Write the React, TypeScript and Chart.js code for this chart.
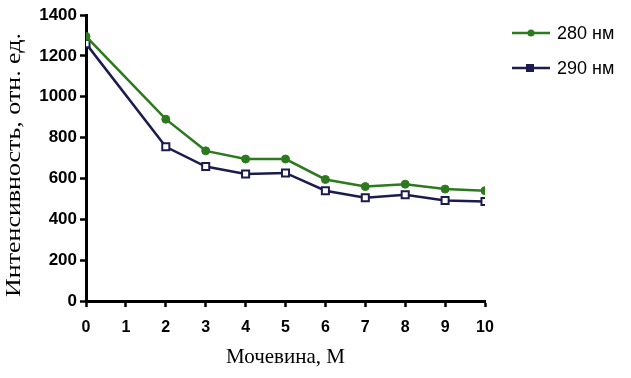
import React, { useEffect, useRef } from "react";
import { Chart, registerables } from "chart.js";

Chart.register(...registerables);

const urea = [0, 2, 3, 4, 5, 6, 7, 8, 9, 10];
const series280 = [1295, 890, 735, 695, 695, 595, 560, 572, 548, 540];
const series290 = [1260, 755, 658, 622, 627, 540, 505, 520, 492, 487];
const legendLabels = ["280 нм", "290 нм"];
const xTitle = "Мочевина, М";
const yTitle = "Интенсивность, отн. ед.";

const GREEN = "#2d7a1e";
const NAVY = "#1b1b4f";

const legendPlugin = {
  id: "customLegend",
  afterDraw(chart: any) {
    const ctx = chart.ctx;
    const items = chart.data.datasets;
    items.forEach((ds: any, i: number) => {
      const y = 33 + i * 35;
      ctx.save();
      ctx.strokeStyle = ds.borderColor;
      ctx.lineWidth = 2.5;
      ctx.beginPath();
      ctx.moveTo(512, y);
      ctx.lineTo(550, y);
      ctx.stroke();
      ctx.fillStyle = ds.borderColor;
      if (ds.pointStyle === "rect") {
        ctx.fillRect(526, y - 4, 8, 8);
      } else {
        ctx.beginPath();
        ctx.arc(531, y, 3.5, 0, Math.PI * 2);
        ctx.fill();
      }
      ctx.fillStyle = "#000";
      ctx.font = "18px 'Liberation Sans', Arial, sans-serif";
      ctx.textBaseline = "middle";
      ctx.textAlign = "left";
      ctx.fillText(legendLabels[i], 557, y + 1);
      ctx.restore();
    });
    // y-axis title, stretched along its length like the scanned original
    ctx.save();
    ctx.font = "21px 'Liberation Serif', 'Times New Roman', serif";
    ctx.fillStyle = "#000";
    ctx.textAlign = "center";
    ctx.textBaseline = "middle";
    const w = ctx.measureText(yTitle).width;
    const target = 264;
    ctx.translate(14, 165);
    ctx.rotate(-Math.PI / 2);
    ctx.scale(target / w, 1);
    ctx.fillText(yTitle, 0, 0);
    ctx.restore();
  },
};

export default function App() {
  const ref = useRef<HTMLCanvasElement | null>(null);
  useEffect(() => {
    if (!ref.current) return;
    const chart = new Chart(ref.current, {
      type: "line",
      data: {
        datasets: [
          {
            label: legendLabels[0],
            data: urea.map((x, i) => ({ x, y: series280[i] })),
            borderColor: GREEN,
            backgroundColor: GREEN,
            borderWidth: 2.5,
            pointStyle: "circle",
            pointRadius: 4,
            pointBackgroundColor: GREEN,
            pointBorderColor: GREEN,
            pointBorderWidth: 1,
          },
          {
            label: legendLabels[1],
            data: urea.map((x, i) => ({ x, y: series290[i] })),
            borderColor: NAVY,
            backgroundColor: "#fff",
            borderWidth: 2.5,
            pointStyle: "rect",
            pointRadius: 5,
            pointBackgroundColor: "#fff",
            pointBorderColor: NAVY,
            pointBorderWidth: 2,
          },
        ],
      },
      options: {
        animation: false,
        responsive: false,
        maintainAspectRatio: false,
        layout: { padding: { left: 0, top: 15, right: 146, bottom: 0 } },
        plugins: { legend: { display: false }, tooltip: { enabled: false } },
        scales: {
          x: {
            type: "linear",
            min: 0,
            max: 10,
            afterFit: (s: any) => {
              s.height = 77;
            },
            ticks: {
              stepSize: 1,
              color: "#000",
              padding: 11,
              callback: (v: any) => String(v),
              font: { family: "'Liberation Sans', Arial, sans-serif", size: 16, weight: "bold" },
            },
            grid: {
              drawOnChartArea: false,
              drawTicks: true,
              tickLength: 6,
              tickWidth: 2.5,
              tickColor: "#000",
            },
            border: { color: "#000", width: 3 },
            title: {
              display: true,
              text: xTitle,
              color: "#000",
              font: { family: "'Liberation Serif', 'Times New Roman', serif", size: 21 },
              padding: { top: 0, bottom: 8 },
            },
          },
          y: {
            min: 0,
            max: 1400,
            afterFit: (s: any) => {
              s.width = 86;
            },
            ticks: {
              stepSize: 200,
              color: "#000",
              padding: 3,
              callback: (v: any) => String(v),
              font: { family: "'Liberation Sans', Arial, sans-serif", size: 17, weight: "bold" },
            },
            grid: {
              drawOnChartArea: false,
              drawTicks: true,
              tickLength: 6,
              tickWidth: 2.5,
              tickColor: "#000",
            },
            border: { color: "#000", width: 3 },
            title: { display: false, text: yTitle },
          },
        },
      },
      plugins: [legendPlugin],
    } as any);
    return () => chart.destroy();
  }, []);
  return (
    <div style={{ position: "fixed", left: 0, top: 0, width: 631, height: 378, background: "#fff" }}>
      <canvas ref={ref} width={631} height={378} style={{ width: 631, height: 378 }} />
    </div>
  );
}
